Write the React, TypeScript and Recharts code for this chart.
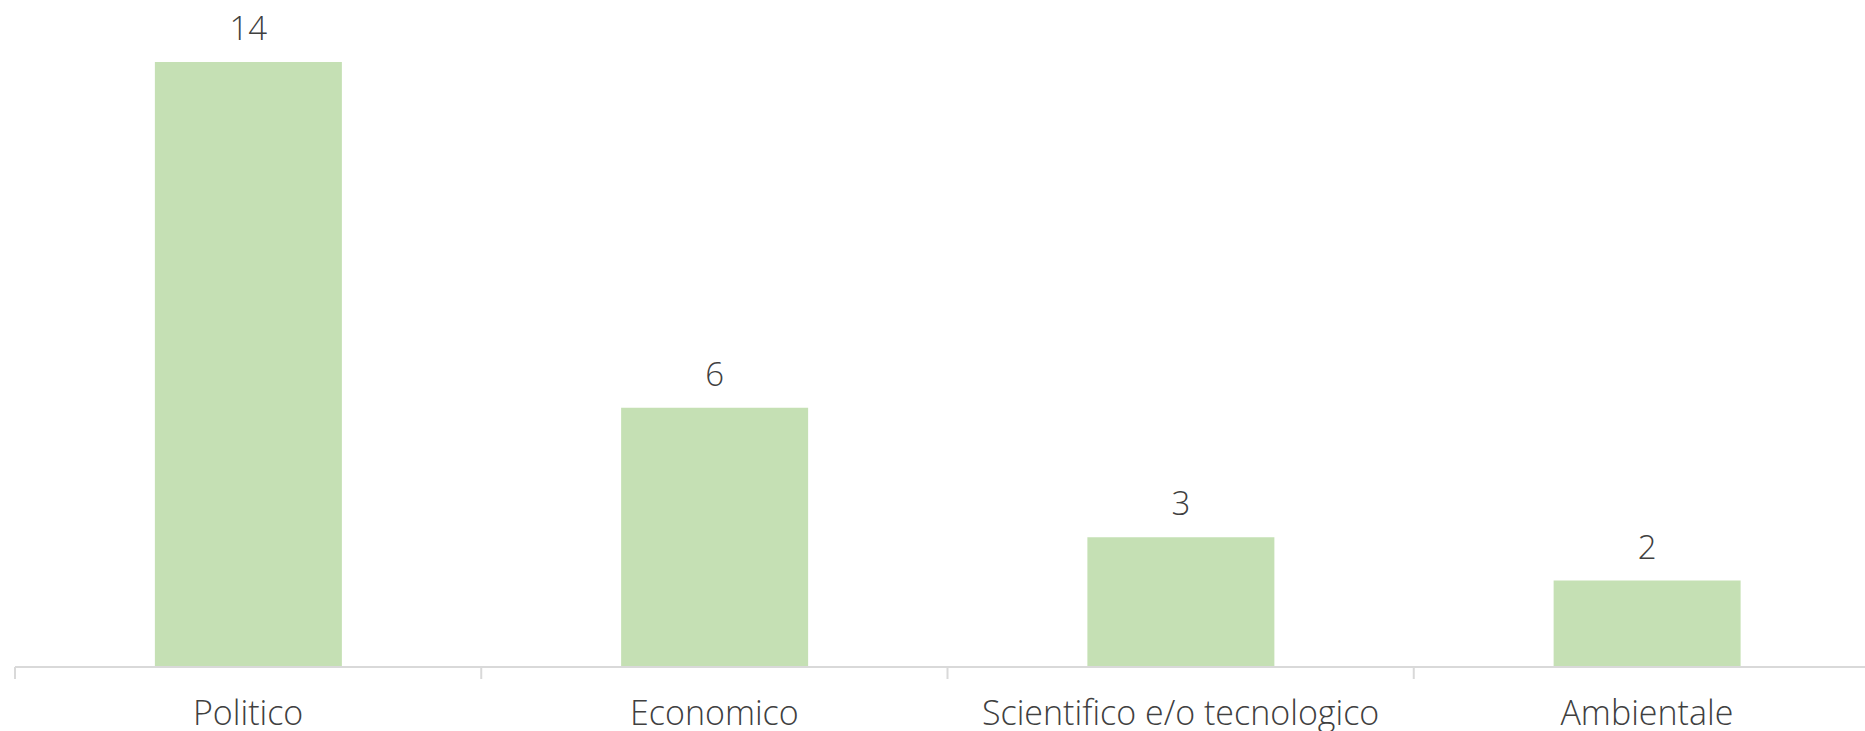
import React from 'react';
import { BarChart, Bar, XAxis, YAxis, LabelList } from 'recharts';

const categories = ['Politico', 'Economico', 'Scientifico e/o tecnologico', 'Ambientale'];
const values = [14, 6, 3, 2];

const data = categories.map((name, i) => ({ name, value: values[i] }));

const FONT = "'Open Sans', 'Noto Sans', sans-serif";
const TEXT = '#404040';

const Tick = (props: any) => {
  const { x, y, payload } = props;
  const off = payload && payload.offset ? payload.offset : 0;
  return (
    <g>
      <line x1={x - off} x2={x - off} y1={y - 8} y2={y + 4} stroke="#d9d9d9" strokeWidth={2} />
      <text x={x} y={y + 50} textAnchor="middle" fill={TEXT} fontSize={34} fontFamily={FONT} fontWeight={300}>
        {payload.value}
      </text>
    </g>
  );
};

export default function App() {
  return (
    <div style={{ position: 'absolute', left: 0, top: 0, width: 1865, height: 731, overflow: 'hidden', background: '#fff' }}>
      <BarChart
        width={1900}
        height={731}
        data={data}
        margin={{ top: 62, right: 20, left: 15, bottom: 0 }}
        barCategoryGap="30%"
      >
        <XAxis
          dataKey="name"
          axisLine={{ stroke: '#d9d9d9', strokeWidth: 2 }}
          tickLine={false}
          height={64}
          tick={<Tick />}
          interval={0}
        />
        <YAxis hide domain={[0, 14]} />
        <Bar dataKey="value" fill="#c5e0b4" isAnimationActive={false}>
          <LabelList dataKey="value" position="top" offset={22} fill={TEXT} fontSize={33} fontFamily={FONT} fontWeight={300} />
        </Bar>
      </BarChart>
    </div>
  );
}
